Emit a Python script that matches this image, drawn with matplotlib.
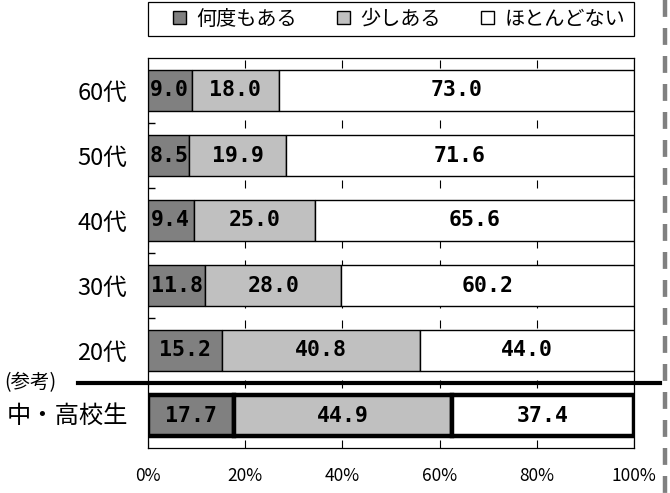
import matplotlib
matplotlib.use("Agg")
import matplotlib.pyplot as plt
from matplotlib.patches import Patch, Rectangle
from matplotlib.lines import Line2D
from matplotlib.transforms import blended_transform_factory

plt.rcParams["font.family"] = ["Noto Sans CJK JP", "DejaVu Sans"]

# データ（上から順）
groups = ["60代", "50代", "40代", "30代", "20代", "中・高校生"]
often = [9.0, 8.5, 9.4, 11.8, 15.2, 17.7]    # 何度もある
some = [18.0, 19.9, 25.0, 28.0, 40.8, 44.9]   # 少しある
rarely = [73.0, 71.6, 65.6, 60.2, 44.0, 37.4]  # ほとんどない
series_names = ["何度もある", "少しある", "ほとんどない"]
series_colors = ["#808080", "#c0c0c0", "#ffffff"]
x_ticks = [0, 20, 40, 60, 80, 100]
x_tick_labels = ["0%", "20%", "40%", "60%", "80%", "100%"]

W, H = 670, 493
fig = plt.figure(figsize=(W / 100, H / 100), dpi=100)
ax = fig.add_axes([148 / W, 45 / H, 486 / W, 390 / H])

ypos = list(range(len(groups)))
bar_h = 0.62
series = [often, some, rarely]
for i, y in enumerate(ypos):
    ref = groups[i] == "中・高校生"
    left = 0.0
    for vals, color in zip(series, series_colors):
        v = vals[i]
        ax.barh(y, v, left=left, height=bar_h, color=color, edgecolor="black",
                linewidth=3.2 if ref else 1.0, zorder=3)
        ax.text(left + v / 2, y, f"{v:.1f}", ha="center", va="center",
                family="DejaVu Sans Mono", fontweight="bold", fontsize=15.5, zorder=4)
        left += v

ax.set_xlim(0, 100)
ax.set_ylim(len(groups) - 0.5, -0.5)
ax.set_xticks(x_ticks)
ax.set_xticklabels(x_tick_labels, fontsize=12.5)
ax.tick_params(axis="x", length=0, pad=14)
ax.set_yticks(ypos)
ax.set_yticklabels(groups[:-1] + [""], fontsize=17)
ax.tick_params(axis="y", length=0, pad=15)
ax.set_yticks([y + 0.5 for y in ypos[:-1]], minor=True)
ax.tick_params(axis="y", which="minor", direction="in", length=5, width=1)
ax.grid(axis="x", color="black", linewidth=0.8, linestyle=(0, (7.2, 10.8)), zorder=1)
for sp in ax.spines.values():
    sp.set_linewidth(0.9)

# 中・高校生 ラベルと（参考）区切り線
tr = blended_transform_factory(ax.transAxes, ax.transData)
ax.text(-0.04, 5, "中・高校生", transform=tr, ha="right", va="center", fontsize=17.5)
ax.plot([-0.145, 1.053], [4.5, 4.5], color="black", linewidth=3, transform=tr,
        clip_on=False, zorder=5)
ax.text(-0.295, 4.5, "(参考)", transform=tr, ha="left", va="center", fontsize=14)

# 凡例
fig.patches.append(Rectangle((148 / W, 457 / H), 486 / W, 34 / H, transform=fig.transFigure,
                             facecolor="white", edgecolor="black", linewidth=0.9))
handles = [Patch(facecolor=c, edgecolor="black", linewidth=1) for c in series_colors]
fig.legend(handles, series_names, loc="center left", bbox_to_anchor=(173 / W, 474 / H),
           ncol=3, frameon=False, fontsize=14.5, handlelength=0.65, handleheight=0.65,
           handletextpad=0.5, columnspacing=2.0, borderpad=0, borderaxespad=0)

# 右端の灰色破線
fig.add_artist(Line2D([665 / W, 665 / W], [1, 0], color="#808080", linewidth=3.2,
                      linestyle=(0, (3.8, 2.5)), transform=fig.transFigure))

fig.savefig("out.png", dpi=100)
